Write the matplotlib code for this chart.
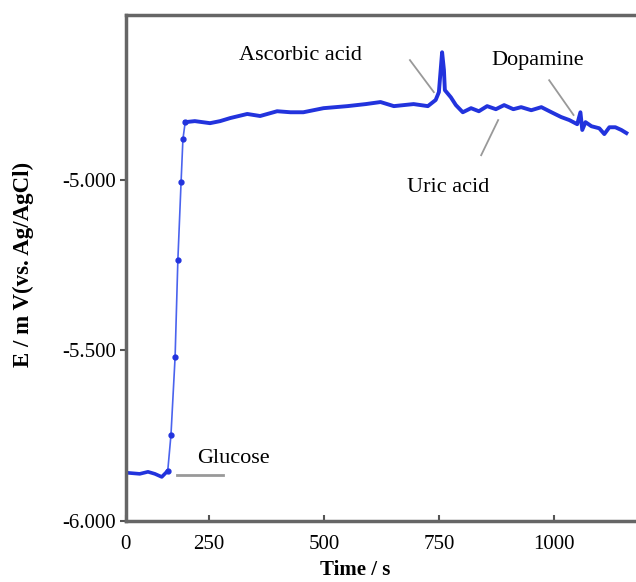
import matplotlib.pyplot as plt

# baseline before glucose addition
t_base = [73, 99, 117, 132, 147, 160]
e_base = [-5.859, -5.862, -5.856, -5.862, -5.871, -5.853]

# rising step after glucose (sampled points)
t_rise = [160, 167, 176, 182, 189, 193, 198]
e_rise = [-5.853, -5.748, -5.519, -5.235, -5.006, -4.880, -4.830]

# plateau with interferent additions
t_plat = [198, 219, 252, 274, 296, 333, 361, 398, 427, 455, 499, 551, 591, 623,
          652, 695, 726, 743, 750, 757, 761, 763, 776, 787, 802, 820, 837, 855,
          874, 892, 912, 929, 951, 973, 995, 1016, 1034, 1051, 1058, 1062, 1069,
          1082, 1099, 1110, 1121, 1134, 1147, 1158]
e_plat = [-4.830, -4.827, -4.833, -4.827, -4.818, -4.806, -4.812, -4.798, -4.801,
          -4.801, -4.789, -4.783, -4.777, -4.771, -4.783, -4.777, -4.783, -4.765,
          -4.742, -4.625, -4.677, -4.736, -4.757, -4.780, -4.801, -4.789, -4.798,
          -4.783, -4.792, -4.780, -4.792, -4.786, -4.795, -4.786, -4.801, -4.815,
          -4.824, -4.836, -4.801, -4.853, -4.830, -4.842, -4.848, -4.865, -4.845,
          -4.845, -4.853, -4.862]

x_ticks = [69, 250, 500, 750, 1000]
x_labels = ["0", "250", "500", "750", "1000"]
y_ticks = [-6.0, -5.5, -5.0]
y_labels = ["-6.000", "-5.500", "-5.000"]

plt.rcParams["font.family"] = ["Liberation Serif", "DejaVu Serif"]

fig = plt.figure(figsize=(6.36, 5.82), dpi=100)
ax = fig.add_axes([0.198, 0.105, 0.81, 0.869])

blue = "#2233dd"
ax.plot(t_base, e_base, color=blue, lw=2.6, solid_capstyle="round")
ax.plot(t_rise, e_rise, color="#4a63ee", lw=1.2, marker="o", ms=3.5,
        markerfacecolor=blue, markeredgecolor=blue)
ax.plot(t_plat, e_plat, color=blue, lw=2.8, solid_joinstyle="round")

ax.set_xlim(69, 1190)
ax.set_ylim(-6.0, -4.516)
ax.set_xticks(x_ticks)
ax.set_xticklabels(x_labels)
ax.set_yticks(y_ticks)
ax.set_yticklabels(y_labels)
ax.tick_params(axis="x", direction="in", length=4, width=1.5, color="#555555",
               labelsize=15, pad=10)
ax.tick_params(axis="y", direction="out", length=4, width=1.5, color="#555555",
               labelsize=15, pad=3)

for side in ["left", "bottom", "top"]:
    ax.spines[side].set_linewidth(2.5)
    ax.spines[side].set_color("#666666")
ax.spines["right"].set_visible(False)

ax.set_xlabel("Time / s", fontsize=15, fontweight="bold")
ax.xaxis.set_label_coords(0.445, -0.078)
ax.set_ylabel("E / m V(vs. Ag/AgCl)", fontsize=16.5, fontweight="bold")
ax.yaxis.set_label_coords(-0.178, 0.508)

gray = "#999999"
ax.text(449, -4.633, "Ascorbic acid", fontsize=16, ha="center", va="center")
ax.plot([687, 739], [-4.648, -4.742], color=gray, lw=1.3)
ax.text(966, -4.648, "Dopamine", fontsize=16, ha="center", va="center")
ax.plot([990, 1043], [-4.707, -4.809], color=gray, lw=1.3)
ax.text(770, -5.023, "Uric acid", fontsize=16, ha="center", va="center")
ax.plot([842, 879], [-4.927, -4.824], color=gray, lw=1.3)
ax.text(302, -5.818, "Glucose", fontsize=16, ha="center", va="center")
ax.plot([180, 281], [-5.865, -5.865], color=gray, lw=2)

fig.savefig("out.png", dpi=100)
